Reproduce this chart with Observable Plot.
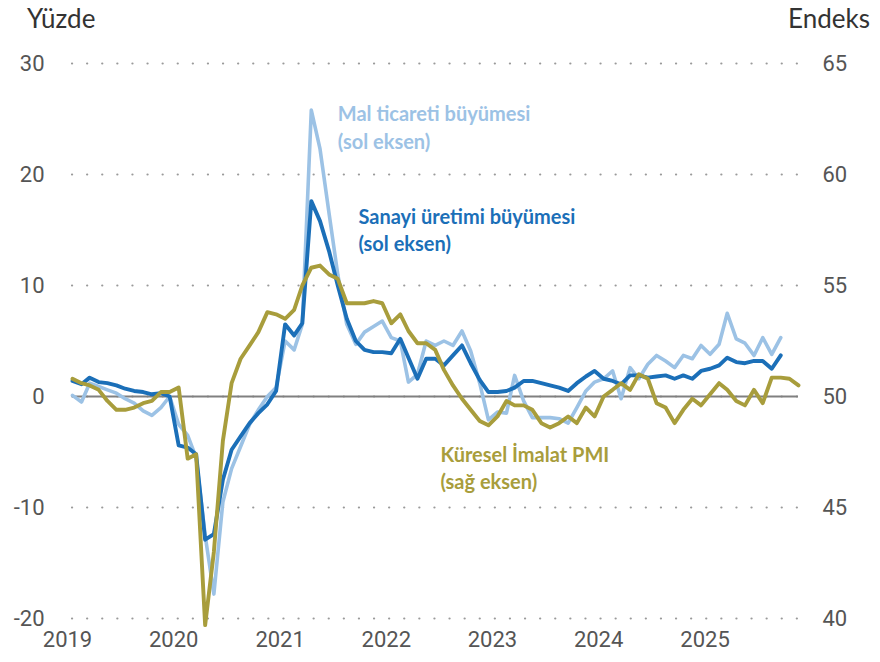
<!DOCTYPE html>
<html><head><meta charset="utf-8">
<script src="https://cdn.jsdelivr.net/npm/d3@7"></script>
<script src="https://cdn.jsdelivr.net/npm/@observablehq/plot@0.6"></script>
<style>
body{margin:0;background:#fff;}
#wrap{position:relative;width:880px;height:662px;}
.ttl{position:absolute;top:2px;font-family:Lato,"Open Sans",sans-serif;font-size:26px;color:#333;}
</style></head><body>
<div id="wrap">
  <div class="ttl" style="left:27px">Yüzde</div>
  <div class="ttl" style="right:10px">Endeks</div>
  <div id="chart"></div>
</div>
<script>
// monthly series, first month January 2019
const startYear = 2019;
const tradeGrowth = [
  0.1, -0.5, 1.2, 0.9, 0.6, 0.3, -0.2, -0.6, -1.3, -1.7, -1.0, 0.0,
  -2.5, -3.5, -5.5, -12.5, -17.8, -9.5, -6.5, -4.5, -2.5, -1.2, 0.0, 0.8,
  5.0, 4.2, 6.5, 25.8, 22.3, 16.5, 11.0, 6.5, 4.7, 5.8, 6.3, 6.8,
  5.3, 5.0, 1.3, 2.0, 5.0, 4.6, 5.0, 4.6, 5.9, 4.1, 1.2, -2.1,
  -1.4, -1.5, 1.9, -0.4, -1.9, -1.9, -1.9, -2.0, -2.4, -1.0, 0.5, 1.3,
  1.6, 2.3, -0.2, 2.6, 1.6, 2.9, 3.7, 3.2, 2.6, 3.7, 3.4, 4.6,
  3.8, 4.7, 7.5, 5.2, 4.8, 3.7, 5.3, 3.8, 5.3
];
const industrialGrowth = [
  1.4, 1.1, 1.7, 1.3, 1.2, 1.0, 0.7, 0.5, 0.4, 0.2, 0.3, 0.0,
  -4.4, -4.6, -5.2, -12.9, -12.4, -7.5, -4.8, -3.6, -2.4, -1.5, -0.7, 0.5,
  6.5, 5.5, 6.6, 17.6, 15.8, 13.1, 10.0, 7.0, 5.0, 4.2, 4.0, 4.0,
  3.9, 5.2, 3.5, 1.6, 3.4, 3.4, 2.8, 3.7, 4.6, 3.0, 1.5, 0.4,
  0.4, 0.5, 0.8, 1.4, 1.4, 1.2, 1.0, 0.8, 0.5, 1.2, 1.8, 2.3,
  1.6, 1.4, 1.1, 1.9, 1.9, 1.7, 1.8, 1.9, 1.6, 1.9, 1.6, 2.3,
  2.5, 2.8, 3.5, 3.1, 3.0, 3.2, 3.2, 2.5, 3.7
];
const pmiIndex = [
  50.8, 50.6, 50.5, 50.3, 49.8, 49.4, 49.4, 49.5, 49.7, 49.8, 50.2, 50.2,
  50.4, 47.2, 47.4, 39.7, 43.0, 48.0, 50.6, 51.7, 52.3, 52.9, 53.8, 53.7,
  53.5, 53.9, 55.0, 55.8, 55.9, 55.5, 55.3, 54.2, 54.2, 54.2, 54.3, 54.2,
  53.3, 53.7, 52.95, 52.4, 52.4, 52.1, 51.2, 50.5, 49.9, 49.4, 48.9, 48.7,
  49.1, 49.8, 49.6, 49.6, 49.4, 48.8, 48.6, 48.8, 49.1, 48.8, 49.5, 49.1,
  50.0, 50.3, 50.6, 50.3, 51.0, 50.8, 49.7, 49.5, 48.8, 49.4, 49.9, 49.6,
  50.1, 50.6, 50.3, 49.8, 49.6, 50.3, 49.7, 50.85, 50.85, 50.8, 50.5
];
const leftTicks = [-20, -10, 0, 10, 20, 30];
const yearTicks = [2019, 2020, 2021, 2022, 2023, 2024, 2025];
const colors = {trade: "#9cc2e5", industry: "#1b6fb8", pmi: "#a89d3c"};
// annotation labels: month index from Jan 2019, left-axis value of the baseline
const labelMonth = [30, 30, 32.3, 32.3, 41.6, 41.6];
const labelValue = [24.8, 22.3, 15.5, 13.1, -5.9, -8.3];
const labelText = ["Mal ticareti büyümesi", "(sol eksen)", "Sanayi üretimi büyümesi", "(sol eksen)", "Küresel İmalat PMI", "(sağ eksen)"];
const labelKey = ["trade", "trade", "industry", "industry", "pmi", "pmi"];

const monthDate = i => {
  const whole = Math.floor(i), frac = i - whole;
  const a = d3.utcMonth.offset(new Date(Date.UTC(startYear, 0, 1)), whole);
  const b = d3.utcMonth.offset(a, 1);
  return new Date(+a + frac * (b - a));
};
const toRows = arr => arr.map((v, i) => ({date: monthDate(i), value: v}));
const tradeRows = toRows(tradeGrowth);
const industryRows = toRows(industrialGrowth);
const pmiRows = toRows(pmiIndex);
const pmiToLeft = v => (v - 50) * 2;
const labelRows = labelText.map((t, i) => ({date: monthDate(labelMonth[i]), value: labelValue[i], text: t, key: labelKey[i]}));

const chart = Plot.plot({
  width: 880, height: 662,
  marginLeft: 72, marginRight: 82, marginTop: 63, marginBottom: 44,
  style: {fontFamily: "Roboto, sans-serif", fontSize: "22px", color: "#555", background: "transparent", overflow: "visible"},
  x: {type: "utc", domain: [monthDate(0), monthDate(82)]},
  y: {domain: [-20, 30]},
  marks: [
    Plot.gridY(leftTicks, {stroke: "#9a9a9a", strokeOpacity: 1, strokeWidth: 2.2, strokeDasharray: "0.1,15", strokeLinecap: "round"}),
    Plot.ruleY([0], {stroke: "#808080", strokeWidth: 2}),
    Plot.axisY(leftTicks, {anchor: "left", tickSize: 0, tickPadding: 28, label: null, fill: "#555", tickFormat: d => String(d)}),
    Plot.axisY(leftTicks, {anchor: "right", tickSize: 0, tickPadding: 24, label: null, fill: "#555", tickFormat: d => String(d / 2 + 50)}),
    Plot.axisX(yearTicks.map(y => new Date(Date.UTC(y, 0, 1))), {anchor: "bottom", tickSize: 0, tickPadding: 13, dx: -5, label: null, fill: "#555", tickFormat: d3.utcFormat("%Y")}),
    Plot.lineY(tradeRows, {x: "date", y: "value", stroke: colors.trade, strokeWidth: 3.6}),
    Plot.lineY(industryRows, {x: "date", y: "value", stroke: colors.industry, strokeWidth: 3.9}),
    Plot.lineY(pmiRows, {x: "date", y: d => pmiToLeft(d.value), stroke: colors.pmi, strokeWidth: 3.9}),
    Plot.text(labelRows, {x: "date", y: "value", text: "text", fill: d => colors[d.key], textAnchor: "start", lineAnchor: "bottom", fontSize: 20, fontWeight: 700, fontFamily: "Lato, sans-serif"})
  ]
});
document.getElementById("chart").appendChild(chart);
</script>
</body></html>
